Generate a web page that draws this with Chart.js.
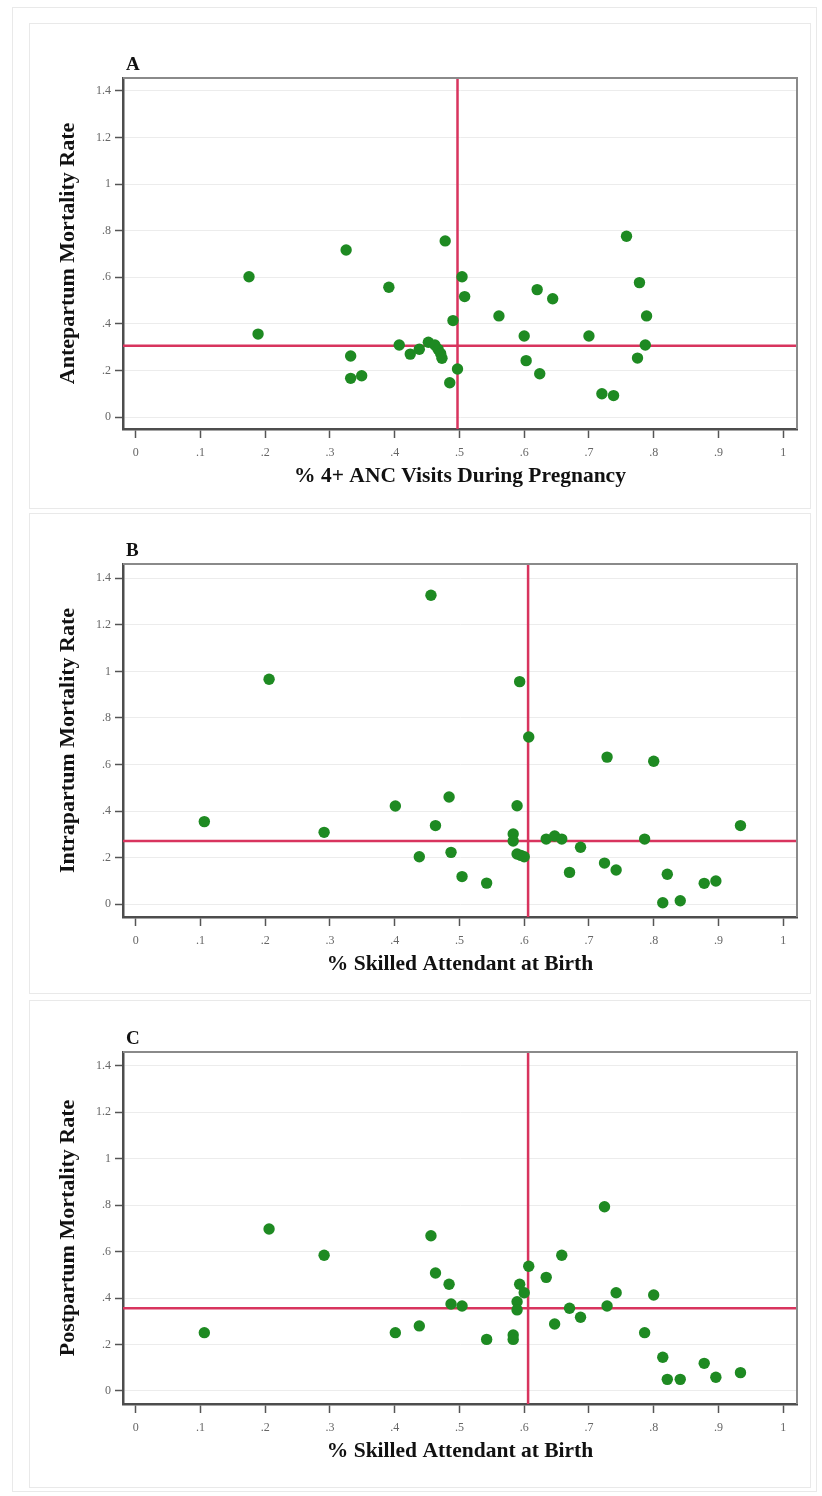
<!DOCTYPE html>
<html>
<head>
<meta charset="utf-8">
<script src="https://cdn.jsdelivr.net/npm/chart.js@4.4.1/dist/chart.umd.min.js"></script>
<style>
  html, body { margin: 0; padding: 0; background: #fff; }
  #page { position: relative; width: 822px; height: 1496px; overflow: hidden; }
  .box { position: absolute; border: 1px solid #e9e9e9; box-sizing: border-box; }
  canvas { position: absolute; left: 0; }
</style>
</head>
<body>
<div id="page">
  <div class="box" style="left:12px;top:7px;width:805px;height:1485px;"></div>
  <div class="box" style="left:29px;top:23px;width:782px;height:486px;"></div>
  <div class="box" style="left:29px;top:513px;width:782px;height:481px;"></div>
  <div class="box" style="left:29px;top:1000px;width:782px;height:488px;"></div>
  <canvas id="chartA" width="822" height="505" style="top:0px"></canvas>
  <canvas id="chartB" width="822" height="487" style="top:505px"></canvas>
  <canvas id="chartC" width="822" height="504" style="top:992px"></canvas>
</div>
<script>
// ---- data ----
// Panel A: % 4+ ANC visits vs antepartum mortality rate
const ancVisits = [0.175, 0.189, 0.325, 0.332, 0.332, 0.349, 0.391, 0.407, 0.424, 0.438,
  0.452, 0.462, 0.467, 0.471, 0.473, 0.478, 0.485, 0.490, 0.497, 0.504,
  0.508, 0.561, 0.600, 0.603, 0.620, 0.624, 0.644, 0.700, 0.720, 0.738,
  0.758, 0.775, 0.778, 0.787, 0.789];
const antepartumRate = [0.602, 0.356, 0.717, 0.262, 0.166, 0.177, 0.557, 0.309, 0.270, 0.291,
  0.321, 0.309, 0.291, 0.273, 0.252, 0.756, 0.147, 0.414, 0.206, 0.602,
  0.517, 0.434, 0.348, 0.242, 0.547, 0.186, 0.508, 0.348, 0.100, 0.092,
  0.776, 0.253, 0.577, 0.309, 0.434];

// Panel B: % skilled attendant at birth vs intrapartum mortality rate
const skilledB = [0.106, 0.206, 0.291, 0.401, 0.438, 0.456, 0.463, 0.484, 0.487, 0.504,
  0.542, 0.583, 0.583, 0.589, 0.589, 0.593, 0.595, 0.600, 0.607, 0.634,
  0.647, 0.658, 0.670, 0.687, 0.724, 0.728, 0.742, 0.786, 0.800, 0.814,
  0.821, 0.841, 0.878, 0.896, 0.934];
const intrapartumRate = [0.355, 0.966, 0.309, 0.422, 0.204, 1.327, 0.338, 0.461, 0.223, 0.119,
  0.091, 0.302, 0.272, 0.423, 0.216, 0.956, 0.210, 0.204, 0.718, 0.280,
  0.293, 0.280, 0.137, 0.245, 0.177, 0.632, 0.147, 0.280, 0.614, 0.007,
  0.129, 0.015, 0.090, 0.100, 0.338];

// Panel C: % skilled attendant at birth vs postpartum mortality rate
const skilledC = [0.106, 0.206, 0.291, 0.401, 0.438, 0.456, 0.463, 0.484, 0.487, 0.504,
  0.542, 0.583, 0.583, 0.589, 0.589, 0.593, 0.600, 0.607, 0.634, 0.647,
  0.658, 0.670, 0.687, 0.724, 0.728, 0.742, 0.786, 0.800, 0.814, 0.821,
  0.841, 0.878, 0.896, 0.934];
const postpartumRate = [0.251, 0.697, 0.584, 0.251, 0.280, 0.668, 0.508, 0.459, 0.374, 0.366,
  0.222, 0.241, 0.222, 0.384, 0.349, 0.459, 0.423, 0.537, 0.489, 0.288,
  0.584, 0.356, 0.317, 0.793, 0.366, 0.423, 0.251, 0.413, 0.145, 0.050,
  0.050, 0.119, 0.059, 0.079];

// reference (mean) lines: [x, y] per panel
const meanLinesA = [0.497, 0.306];
const meanLinesB = [0.606, 0.272];
const meanLinesC = [0.606, 0.356];

const panelLetters = ['A', 'B', 'C'];
const xTitles = ['% 4+ ANC Visits During Pregnancy', '% Skilled Attendant at Birth', '% Skilled Attendant at Birth'];
const yTitles = ['Antepartum Mortality Rate', 'Intrapartum Mortality Rate', 'Postpartum Mortality Rate'];

const GREEN = '#1e8a22';
const RED = '#d8345e';
const SERIF = "'Liberation Serif', 'DejaVu Serif', serif";

// Stata style labels: .2 instead of 0.2
function stataLabel(v) {
  const s = Number(v.toFixed(1)).toString();
  return s.replace(/^0\./, '.');
}

// top/right frame + panel letter
const framePlugin = {
  id: 'frame',
  afterDraw(chart, args, opts) {
    const { ctx, chartArea: a } = chart;
    ctx.save();
    ctx.strokeStyle = '#8a8a8a';
    ctx.lineWidth = 2;
    ctx.beginPath();
    ctx.moveTo(a.left, a.top);
    ctx.lineTo(a.right, a.top);
    ctx.lineTo(a.right, a.bottom);
    ctx.stroke();
    ctx.fillStyle = '#111';
    ctx.font = 'bold 19px ' + SERIF;
    ctx.textBaseline = 'middle';
    ctx.fillText(opts.letter, a.left + 3, a.top - 13);
    ctx.restore();
  }
};

function makePanel(id, idx, xs, ys, means, padTop, padBottom, yMin, yMax) {
  const pts = xs.map((x, i) => ({ x: x, y: ys[i] }));
  const xMin = -0.0196, xMax = 1.0213;
  return new Chart(document.getElementById(id), {
    type: 'scatter',
    data: {
      datasets: [
        {
          type: 'scatter',
          data: pts,
          backgroundColor: GREEN,
          borderWidth: 0,
          pointRadius: 5.7,
          order: 0
        },
        {
          type: 'line',
          data: [{ x: means[0], y: yMin }, { x: means[0], y: yMax }],
          borderColor: RED,
          borderWidth: 2.5,
          pointRadius: 0,
          order: 1
        },
        {
          type: 'line',
          data: [{ x: xMin, y: means[1] }, { x: xMax, y: means[1] }],
          borderColor: RED,
          borderWidth: 2.5,
          pointRadius: 0,
          order: 1
        }
      ]
    },
    options: {
      responsive: false,
      animation: false,
      layout: { padding: { left: 55, right: 25, top: padTop, bottom: padBottom } },
      plugins: {
        legend: { display: false },
        tooltip: { enabled: false },
        frame: { letter: panelLetters[idx] }
      },
      scales: {
        x: {
          type: 'linear',
          min: xMin,
          max: xMax,
          afterFit: s => { s.height = 61; },
          ticks: { stepSize: 0.1, includeBounds: false, callback: stataLabel, color: '#666',
            font: { family: SERIF, size: 12 }, padding: 8, maxRotation: 0 },
          grid: { drawOnChartArea: false, tickColor: '#555', tickLength: 9, tickWidth: 1.5 },
          border: { color: '#4d4d4d', width: 2.5 },
          title: { display: true, text: xTitles[idx], color: '#111',
            font: { family: SERIF, size: 21.5, weight: 'bold' }, padding: { top: 0, bottom: 1 } }
        },
        y: {
          type: 'linear',
          min: yMin,
          max: yMax,
          afterFit: s => { s.width = 68; },
          ticks: { stepSize: 0.2, includeBounds: false, callback: stataLabel, color: '#666',
            font: { family: SERIF, size: 12 }, padding: 4 },
          grid: { color: '#ececec', lineWidth: 1, tickColor: '#555', tickLength: 8, tickWidth: 1.5 },
          border: { color: '#4d4d4d', width: 2.5 },
          title: { display: true, text: yTitles[idx], color: '#111',
            font: { family: SERIF, size: 22, weight: 'bold' }, padding: { top: 0, bottom: 0 } }
        }
      }
    },
    plugins: [framePlugin]
  });
}

makePanel('chartA', 0, ancVisits, antepartumRate, meanLinesA, 78, 15, -0.0515, 1.4555);
makePanel('chartB', 1, skilledB, intrapartumRate, meanLinesB, 59, 14, -0.0545, 1.461);
makePanel('chartC', 2, skilledC, postpartumRate, meanLinesC, 60, 31, -0.056, 1.4587);
</script>
</body>
</html>
